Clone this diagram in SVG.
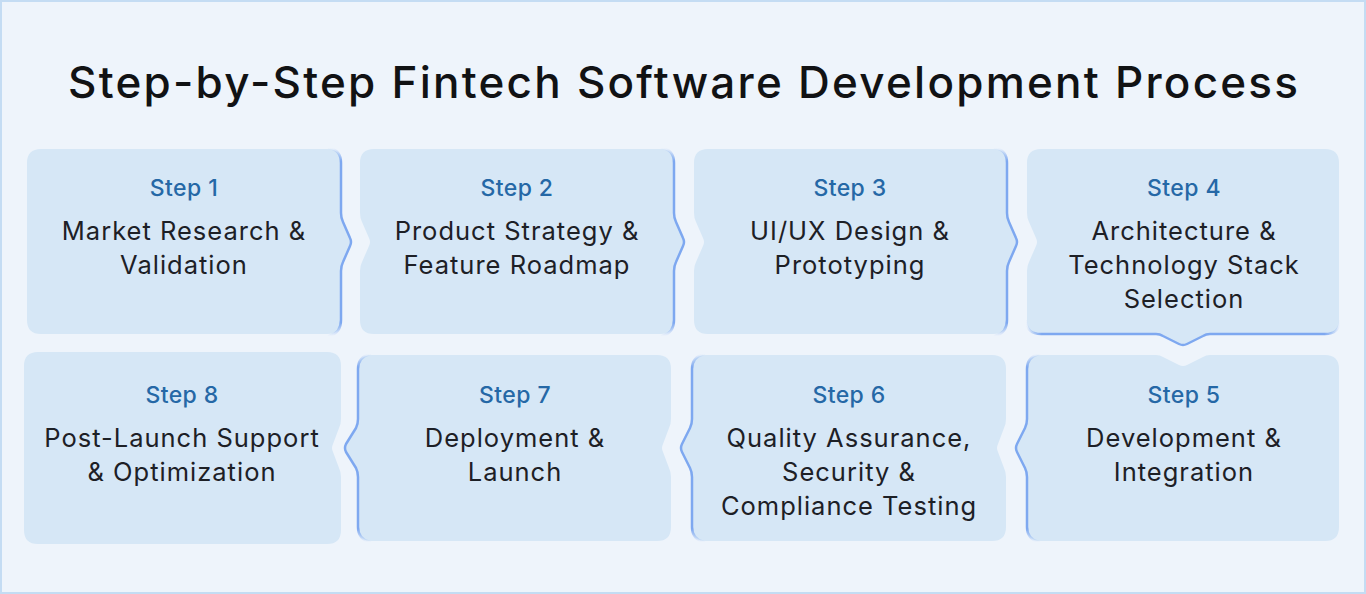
<svg xmlns="http://www.w3.org/2000/svg" width="1366" height="594" viewBox="0 0 1366 594">
<style>
.card{fill:#D6E7F6}
.edge{fill:none;stroke-width:2.5;stroke-linecap:round;stroke-linejoin:round}
.ev{stroke:url(#fv)}
.eh{stroke:url(#fh)}
.title{font-family:Inter,"Noto Sans",sans-serif;font-weight:500;font-size:44px;fill:#111214;text-anchor:middle}
.step{font-family:Inter,"Noto Sans",sans-serif;font-weight:500;font-size:23px;letter-spacing:0.4px;fill:#2568A6;text-anchor:middle}
.txt{font-family:Inter,"Noto Sans",sans-serif;font-weight:400;font-size:25.5px;letter-spacing:1px;fill:#1D2026;text-anchor:middle}
</style>
<defs>
<linearGradient id="fv" x1="0" y1="0" x2="0" y2="1">
<stop offset="0" stop-color="#7EA8F0" stop-opacity="0"/>
<stop offset="0.07" stop-color="#7EA8F0" stop-opacity="1"/>
<stop offset="0.93" stop-color="#7EA8F0" stop-opacity="1"/>
<stop offset="1" stop-color="#7EA8F0" stop-opacity="0"/>
</linearGradient>
<linearGradient id="fh" x1="0" y1="0" x2="1" y2="0">
<stop offset="0" stop-color="#7EA8F0" stop-opacity="0"/>
<stop offset="0.05" stop-color="#7EA8F0" stop-opacity="1"/>
<stop offset="0.95" stop-color="#7EA8F0" stop-opacity="1"/>
<stop offset="1" stop-color="#7EA8F0" stop-opacity="0"/>
</linearGradient>
</defs>
<rect x="1" y="1" width="1364" height="592" fill="#EEF4FB" stroke="#C4DCF3" stroke-width="2"/>
<text class="title" x="683" y="98" textLength="1230" lengthAdjust="spacing">Step-by-Step Fintech Software Development Process</text>

<g id="step1">
<path class="card" d="M 41 149 H 327 Q 341 149 341 163 V 213 Q 341 218 343 222 L 350 238 Q 352 242 350 246 L 343 262 Q 341 266 341 271 V 320 Q 341 334 327 334 H 41 Q 27 334 27 320 V 163 Q 27 149 41 149 Z"/>
<text class="step" x="184" y="196">Step 1</text>
<text class="txt" x="184" y="240">Market Research &amp;</text>
<text class="txt" x="184" y="274">Validation</text>
</g>
<g id="step2">
<path class="card" d="M 374 149 H 660 Q 674 149 674 163 V 213 Q 674 218 676 222 L 683 238 Q 685 242 683 246 L 676 262 Q 674 266 674 271 V 320 Q 674 334 660 334 H 374 Q 360 334 360 320 V 271 Q 360 266 362 262 L 369 246 Q 371 242 369 238 L 362 222 Q 360 218 360 213 V 163 Q 360 149 374 149 Z"/>
<text class="step" x="517" y="196">Step 2</text>
<text class="txt" x="517" y="240">Product Strategy &amp;</text>
<text class="txt" x="517" y="274">Feature Roadmap</text>
</g>
<g id="step3">
<path class="card" d="M 708 149 H 993 Q 1007 149 1007 163 V 213 Q 1007 218 1009 222 L 1016 238 Q 1018 242 1016 246 L 1009 262 Q 1007 266 1007 271 V 320 Q 1007 334 993 334 H 708 Q 694 334 694 320 V 271 Q 694 266 696 262 L 703 246 Q 705 242 703 238 L 696 222 Q 694 218 694 213 V 163 Q 694 149 708 149 Z"/>
<text class="step" x="850" y="196">Step 3</text>
<text class="txt" x="850" y="240">UI/UX Design &amp;</text>
<text class="txt" x="850" y="274">Prototyping</text>
</g>
<g id="step4">
<path class="card" d="M 1041 149 H 1325 Q 1339 149 1339 163 V 320 Q 1339 334 1325 334 H 1210 Q 1206 334 1203 336 L 1187 344 Q 1183 346 1179 344 L 1163 336 Q 1160 334 1156 334 H 1041 Q 1027 334 1027 320 V 271 Q 1027 266 1029 262 L 1036 246 Q 1038 242 1036 238 L 1029 222 Q 1027 218 1027 213 V 163 Q 1027 149 1041 149 Z"/>
<text class="step" x="1184" y="196">Step 4</text>
<text class="txt" x="1184" y="240">Architecture &amp;</text>
<text class="txt" x="1184" y="274">Technology Stack</text>
<text class="txt" x="1184" y="308">Selection</text>
</g>
<g id="step5">
<path class="card" d="M 1041 355 H 1156 Q 1160 355 1163 357 L 1179 365 Q 1183 367 1187 365 L 1203 357 Q 1206 355 1210 355 H 1325 Q 1339 355 1339 369 V 527 Q 1339 541 1325 541 H 1041 Q 1027 541 1027 527 V 477 Q 1027 472 1025 468 L 1017 452 Q 1015 448 1017 444 L 1025 428 Q 1027 424 1027 419 V 369 Q 1027 355 1041 355 Z"/>
<text class="step" x="1184" y="403">Step 5</text>
<text class="txt" x="1184" y="447">Development &amp;</text>
<text class="txt" x="1184" y="481">Integration</text>
</g>
<g id="step6">
<path class="card" d="M 706 355 H 992 Q 1006 355 1006 369 V 419 Q 1006 424 1004 428 L 998 444 Q 996 448 998 452 L 1004 468 Q 1006 472 1006 477 V 527 Q 1006 541 992 541 H 706 Q 692 541 692 527 V 477 Q 692 472 690 468 L 682 452 Q 680 448 682 444 L 690 428 Q 692 424 692 419 V 369 Q 692 355 706 355 Z"/>
<text class="step" x="849" y="403">Step 6</text>
<text class="txt" x="849" y="447">Quality Assurance,</text>
<text class="txt" x="849" y="481">Security &amp;</text>
<text class="txt" x="849" y="515">Compliance Testing</text>
</g>
<g id="step7">
<path class="card" d="M 372 355 H 657 Q 671 355 671 369 V 419 Q 671 424 669 428 L 663 444 Q 661 448 663 452 L 669 468 Q 671 472 671 477 V 527 Q 671 541 657 541 H 372 Q 358 541 358 527 V 477 Q 358 472 356 468 L 346 452 Q 344 448 346 444 L 356 428 Q 358 424 358 419 V 369 Q 358 355 372 355 Z"/>
<text class="step" x="515" y="403">Step 7</text>
<text class="txt" x="515" y="447">Deployment &amp;</text>
<text class="txt" x="515" y="481">Launch</text>
</g>
<g id="step8">
<path class="card" d="M 38 352 H 327 Q 341 352 341 366 V 419 Q 341 424 339 428 L 333 444 Q 331 448 333 452 L 339 468 Q 341 472 341 477 V 530 Q 341 544 327 544 H 38 Q 24 544 24 530 V 366 Q 24 352 38 352 Z"/>
<text class="step" x="182" y="403">Step 8</text>
<text class="txt" x="182" y="447">Post-Launch Support</text>
<text class="txt" x="182" y="481">&amp; Optimization</text>
</g>

<g id="connectors">
<path class="edge ev" d="M 329 148 Q 341 150 341 163 V 213 Q 341 218 343 222 L 350 238 Q 352 242 350 246 L 343 262 Q 341 266 341 271 V 320 Q 341 333 329 336"/>
<path class="edge ev" d="M 662 148 Q 674 150 674 163 V 213 Q 674 218 676 222 L 683 238 Q 685 242 683 246 L 676 262 Q 674 266 674 271 V 320 Q 674 333 662 336"/>
<path class="edge ev" d="M 995 148 Q 1007 150 1007 163 V 213 Q 1007 218 1009 222 L 1016 238 Q 1018 242 1016 246 L 1009 262 Q 1007 266 1007 271 V 320 Q 1007 333 995 336"/>
<path class="edge eh" d="M 1026 321 Q 1027 334 1041 334 H 1156 Q 1160 334 1163 336 L 1179 344 Q 1183 346 1187 344 L 1203 336 Q 1206 334 1210 334 H 1325 Q 1339 334 1340 321"/>
<path class="edge ev" d="M 1039 354 Q 1027 357 1027 369 V 419 Q 1027 424 1025 428 L 1017 444 Q 1015 448 1017 452 L 1025 468 Q 1027 472 1027 477 V 527 Q 1027 539 1039 542"/>
<path class="edge ev" d="M 704 354 Q 692 357 692 369 V 419 Q 692 424 690 428 L 682 444 Q 680 448 682 452 L 690 468 Q 692 472 692 477 V 527 Q 692 539 704 542"/>
<path class="edge ev" d="M 370 354 Q 358 357 358 369 V 419 Q 358 424 356 428 L 346 444 Q 344 448 346 452 L 356 468 Q 358 472 358 477 V 527 Q 358 539 370 542"/>
</g>
</svg>
